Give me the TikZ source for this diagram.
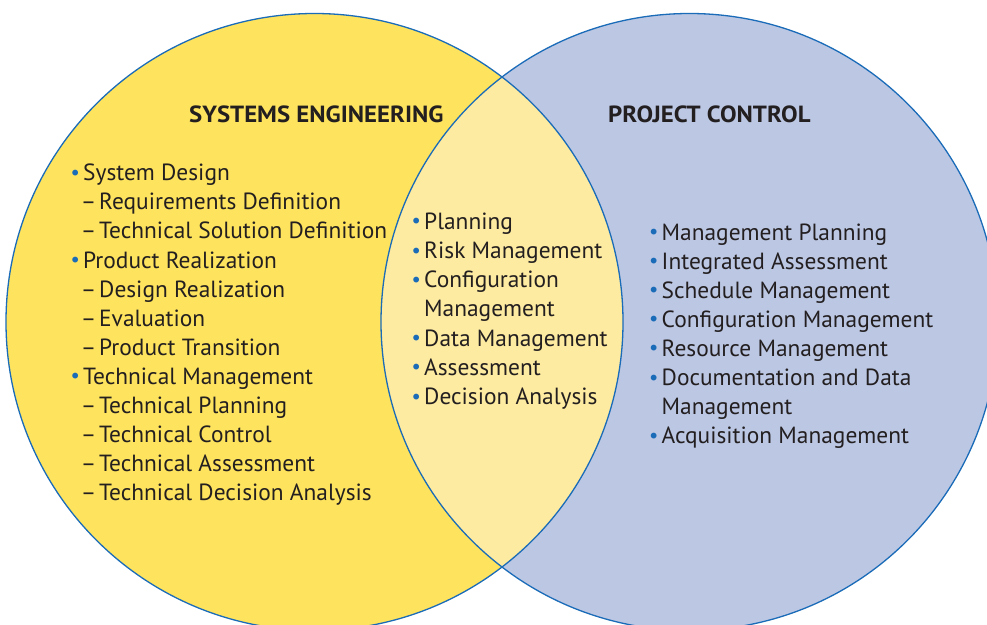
\documentclass[tikz,border=0pt]{standalone}
\usepackage{fontspec}
\setmainfont{PT Sans}
\newfontfamily\ttlfont{PT Sans}[FakeStretch=1.06]
\newfontfamily\bulfont{DejaVu Sans}
\definecolor{seyellow}{HTML}{FDE35E}
\definecolor{lensyellow}{HTML}{FDEBA1}
\definecolor{pcblue}{HTML}{BCC7E3}
\definecolor{edgeblue}{HTML}{1A6BB8}
\definecolor{txt}{HTML}{231F20}
\newcommand{\bul}{\llap{\textcolor{edgeblue}{\bulfont\fontsize{20}{20}\selectfont\raisebox{0.5pt}{•}}\hspace{2pt}}}
\newcommand{\dsh}{\llap{–\hspace{3pt}}}
\tikzset{
  item/.style={anchor=base west, inner sep=0pt, text=txt, font=\fontsize{23.4}{28}\selectfont},
  ttl/.style={anchor=base west, inner sep=0pt, text=txt, font=\ttlfont\fontsize{23.4}{28}\selectfont\bfseries},
  rim/.style={draw=edgeblue, line width=1.3pt}
}
\begin{document}
\begin{tikzpicture}[x=1pt,y=-1pt]
\useasboundingbox (0,0) rectangle (987,624);
\begin{scope}
\clip (0,0) rectangle (987,624);
\fill[seyellow] (314.5,322) circle[radius=308.5pt];
\fill[pcblue] (689.5,322) circle[radius=308.5pt];
\begin{scope}
\clip (314.5,322) circle[radius=308.5pt];
\fill[lensyellow] (689.5,322) circle[radius=308.5pt];
\end{scope}
\draw[rim] (314.5,322) circle[radius=308.5pt];
\draw[rim] (689.5,322) circle[radius=308.5pt];
\end{scope}
% titles
\node[ttl] (t1) at (189,122.7) {SYSTEMS ENGINEERING};
\node[ttl] (t2) at (608,122.7) {PROJECT CONTROL};
% left list
\node[item] (l1) at (83,180.7) {\bul System Design};
\node[item] (l2) at (99,209.8) {\dsh Requirements Definition};
\node[item] (l3) at (99,238.9) {\dsh Technical Solution Definition};
\node[item] (l4) at (83,268.0) {\bul Product Realization};
\node[item] (l5) at (99,297.1) {\dsh Design Realization};
\node[item] (l6) at (99,326.2) {\dsh Evaluation};
\node[item] (l7) at (99,355.3) {\dsh Product Transition};
\node[item] (l8) at (83,384.4) {\bul Technical Management};
\node[item] (l9) at (99,413.5) {\dsh Technical Planning};
\node[item] (l10) at (99,442.6) {\dsh Technical Control};
\node[item] (l11) at (99,471.7) {\dsh Technical Assessment};
\node[item] (l12) at (99,500.8) {\dsh Technical Decision Analysis};
% middle list
\node[item] (m1) at (424,229.3) {\bul Planning};
\node[item] (m2) at (424,258.5) {\bul Risk Management};
\node[item] (m3) at (424,287.7) {\bul Configuration};
\node[item] (m4) at (424,316.9) {Management};
\node[item] (m5) at (424,346.1) {\bul Data Management};
\node[item] (m6) at (424,375.3) {\bul Assessment};
\node[item] (m7) at (424,404.5) {\bul Decision Analysis};
% right list
\node[item] (r1) at (661.5,240.0) {\bul Management Planning};
\node[item] (r2) at (661.5,269.1) {\bul Integrated Assessment};
\node[item] (r3) at (661.5,298.2) {\bul Schedule Management};
\node[item] (r4) at (661.5,327.3) {\bul Configuration Management};
\node[item] (r5) at (661.5,356.4) {\bul Resource Management};
\node[item] (r6) at (661.5,385.5) {\bul Documentation and Data};
\node[item] (r7) at (661.5,414.6) {Management};
\node[item] (r8) at (661.5,443.7) {\bul Acquisition Management};
\end{tikzpicture}
\end{document}
